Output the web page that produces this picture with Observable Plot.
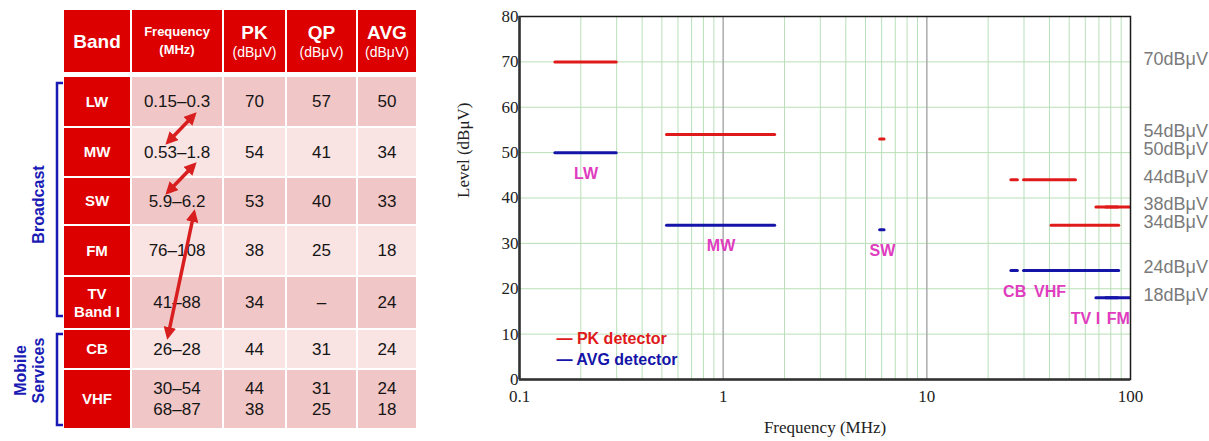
<!DOCTYPE html>
<html><head><meta charset="utf-8">
<script src="https://cdn.jsdelivr.net/npm/d3@7"></script>
<script src="https://cdn.jsdelivr.net/npm/@observablehq/plot@0.6"></script>
<style>
html,body{margin:0;padding:0;background:#fff;}
#root{position:relative;width:1209px;height:441px;overflow:hidden;font-family:"Liberation Sans",Arial,sans-serif;}
#table{position:absolute;left:64px;top:10px;display:grid;grid-template-columns:66px 90px 61px 69px 58px;grid-template-rows:65px 49px 48px 46px 49px 51px 38px 58px;gap:2px;}
.cell{display:flex;align-items:center;justify-content:center;text-align:center;white-space:pre-line;}
.hd{background:#dc0000;color:#fff;font-weight:bold;margin-bottom:3px;font-size:19px;line-height:21px;}
.hd small{display:block;font-size:14px;font-weight:normal;line-height:18px;}
.hd.freq{font-size:13px;line-height:18px;}
.band{background:#dc0000;color:#fff;font-weight:bold;font-size:15px;line-height:18px;}
.body{font-size:17px;color:#151515;line-height:21px;}
.dark{background:#f1c6c6;}
.light{background:#f9e3e3;}
#overlay{position:absolute;left:0;top:0;width:440px;height:441px;pointer-events:none;}
#chart{position:absolute;left:440px;top:0;}
</style>
</head><body>
<div id="root">
  <div id="table"></div>
  <svg id="overlay" xmlns="http://www.w3.org/2000/svg"></svg>
  <div id="chart"></div>
</div>
<script>
// ---- Table data ----
const headers = ["Band", "Frequency\n(MHz)", "PK", "QP", "AVG"];
const headerUnits = ["", "", "(dBμV)", "(dBμV)", "(dBμV)"];
const bands = ["LW", "MW", "SW", "FM", "TV\nBand I", "CB", "VHF"];
const freqText = ["0.15–0.3", "0.53–1.8", "5.9–6.2", "76–108", "41–88", "26–28", "30–54\n68–87"];
const pkText = ["70", "54", "53", "38", "34", "44", "44\n38"];
const qpText = ["57", "41", "40", "25", "–", "31", "31\n25"];
const avgText = ["50", "34", "33", "18", "24", "24", "24\n18"];
const groups = ["Broadcast", "Mobile\nServices"];
const groupFirst = ["LW", "CB"];
const groupLast = ["TV\nBand I", "VHF"];
const arrowFrom = ["LW", "MW", "SW"];
const arrowTo = ["MW", "SW", "CB"];

// ---- Chart data ----
const segBand = ["LW", "MW", "SW", "CB", "VHF", "VHF", "TV I", "FM"];
const segLow = [0.15, 0.53, 5.9, 26, 30, 68, 41, 76];
const segHigh = [0.3, 1.8, 6.2, 28, 54, 87, 88, 108];
const segPK = [70, 54, 53, 44, 44, 38, 34, 38];
const segAVG = [50, 34, 33, 24, 24, 18, 24, 18];
const levelLabels = [70, 54, 50, 44, 38, 34, 24, 18];
const xTicks = [0.1, 1, 10, 100];
const yTicks = [0, 10, 20, 30, 40, 50, 60, 70, 80];
const legendItems = ["PK detector", "AVG detector"];

const RED = "#e01a1a", BLUE = "#1414a8", MAGENTA = "#e03cc0", GROUP_BLUE = "#1a1ab4", ARROW_RED = "#d81e1e";
const SANS = '"Liberation Sans", Arial, sans-serif';

// ---- Build table ----
const table = document.getElementById("table");
headers.forEach((h, i) => {
  const c = document.createElement("div");
  c.className = "cell hd" + (i === 1 ? " freq" : "");
  if (headerUnits[i]) {
    const wrap = document.createElement("div");
    wrap.textContent = h;
    const s = document.createElement("small");
    s.textContent = headerUnits[i];
    wrap.appendChild(s);
    c.appendChild(wrap);
  } else c.textContent = h;
  table.appendChild(c);
});
const freqCells = {};
bands.forEach((b, r) => {
  const shade = r % 2 === 0 ? "dark" : "light";
  const bc = document.createElement("div");
  bc.className = "cell band";
  bc.textContent = b;
  table.appendChild(bc);
  [freqText, pkText, qpText, avgText].forEach((col, j) => {
    const c = document.createElement("div");
    c.className = "cell body " + shade;
    c.textContent = col[r];
    table.appendChild(c);
    if (j === 0) freqCells[b] = c;
  });
});

// ---- Overlay: brackets, group labels, arrows ----
const ov = d3.select("#overlay");
const rootRect = document.getElementById("root").getBoundingClientRect();
const rect = el => { const q = el.getBoundingClientRect(); return {left: q.left - rootRect.left, right: q.right - rootRect.left, top: q.top - rootRect.top, bottom: q.bottom - rootRect.top}; };
const tRect = rect(table);
ov.append("defs").append("marker")
  .attr("id", "ah").attr("viewBox", "0 0 10 10").attr("refX", 7).attr("refY", 5)
  .attr("markerWidth", 3.6).attr("markerHeight", 3.6).attr("orient", "auto-start-reverse")
  .append("path").attr("d", "M0,0 L10,5 L0,10 z").attr("fill", ARROW_RED);

groups.forEach((g, i) => {
  const top = rect(freqCells[groupFirst[i]]).top + (i === 0 ? 6 : 4);
  const bottom = rect(freqCells[groupLast[i]]).bottom - (i === 0 ? 12 : 3);
  const bx = tRect.left - 7, tx = tRect.left - 1;
  ov.append("path").attr("d", `M${tx},${top} H${bx} V${bottom} H${tx}`)
    .attr("fill", "none").attr("stroke", GROUP_BLUE).attr("stroke-width", 2.5);
  const lines = g.split("\n");
  const cy = (top + bottom) / 2 + (i === 0 ? 5 : -9);
  lines.forEach((ln, k) => {
    const x = bx - 19 + (k - (lines.length - 1)) * 18;
    ov.append("text").attr("transform", `translate(${x},${cy}) rotate(-90)`)
      .attr("text-anchor", "middle").attr("dominant-baseline", "central")
      .attr("fill", GROUP_BLUE).attr("font-weight", "bold").attr("font-size", 16)
      .attr("font-family", SANS).text(ln);
  });
});

arrowFrom.forEach((f, i) => {
  const a = rect(freqCells[f]), b = rect(freqCells[arrowTo[i]]);
  const x1 = a.left + 62, y1 = a.bottom - 11;
  const x2 = a.left + 36, y2 = b.top + (i === 2 ? 6 : 14);
  ov.append("line").attr("x1", x1).attr("y1", y1).attr("x2", x2).attr("y2", y2)
    .attr("stroke", ARROW_RED).attr("stroke-width", 3.5)
    .attr("marker-start", "url(#ah)").attr("marker-end", "url(#ah)");
});

// ---- Chart ----
const segs = segBand.map((band, i) => ({band, lo: segLow[i], hi: segHigh[i], pk: segPK[i], avg: segAVG[i]}));
const labels = segs.filter((s, i) => segBand.indexOf(s.band) === i).map(s => {
  const hiV = Math.min(s.hi, xTicks[xTicks.length - 1]);
  const under = d3.min(segs.filter(t => t.lo < s.hi && t.hi > s.lo), t => t.avg);
  return {band: s.band, x: Math.sqrt(s.lo * hiV), y: under};
});
const minor = [];
for (let d = 0; d < xTicks.length - 1; d++) for (let k = 2; k <= 9; k++) minor.push(xTicks[d] * k);

const chart = Plot.plot({
  width: 769, height: 441,
  marginLeft: 79, marginRight: 79, marginTop: 16, marginBottom: 62,
  x: {type: "log", domain: [xTicks[0], xTicks[xTicks.length - 1]]},
  y: {domain: [yTicks[0], yTicks[yTicks.length - 1]]},
  style: {fontFamily: '"Liberation Serif", "Times New Roman", serif', fontSize: "17px", color: "#222", background: "transparent"},
  marks: [
    Plot.gridY(yTicks.slice(1, -1), {stroke: "#b9dfb9", strokeOpacity: 1}),
    Plot.gridX(minor, {stroke: "#b9dfb9", strokeOpacity: 1}),
    Plot.gridX(xTicks.slice(1, -1), {stroke: "#ababab", strokeOpacity: 1, strokeWidth: 1.5}),
    Plot.ruleY(segs, {y: "pk", x1: "lo", x2: "hi", stroke: RED, strokeWidth: 3, strokeLinecap: "round", clip: true}),
    Plot.ruleY(segs, {y: "avg", x1: "lo", x2: "hi", stroke: BLUE, strokeWidth: 3, strokeLinecap: "round", clip: true}),
    Plot.text(labels, {x: "x", y: "y", text: "band", dy: 21, fill: MAGENTA, fontWeight: "bold", fontSize: 16, fontFamily: SANS}),
    Plot.text(levelLabels, {x: () => xTicks[xTicks.length - 1], y: d => d, text: d => `${d}dBμV`, dx: 13, dy: -3, textAnchor: "start", fill: "#7a7a7a", fontSize: 18, fontFamily: SANS}),
    Plot.frame({stroke: "#1a1a1a", strokeWidth: 1.5}),
    Plot.ruleX([xTicks[0]], {stroke: "#333", strokeWidth: 2.5}),
    Plot.ruleY([yTicks[0]], {stroke: "#333", strokeWidth: 2.5}),
    Plot.axisX({ticks: xTicks, tickFormat: d => String(d), tickSize: 0, tickPadding: 10, label: null, fontSize: 17}),
    Plot.axisY({ticks: yTicks, tickSize: 0, tickPadding: 1, label: null, fontSize: 17}),
    Plot.text(["Level (dBμV)"], {frameAnchor: "left", rotate: -90, dx: -56, fontSize: 17, fill: "#222"}),
    Plot.text(["Frequency (MHz)"], {frameAnchor: "bottom", dy: 53, fontSize: 17, fill: "#222"}),
    Plot.text([`— ${legendItems[0]}`], {frameAnchor: "bottom-left", dx: 37, dy: -36, textAnchor: "start", fill: RED, fontWeight: "bold", fontSize: 16, fontFamily: SANS}),
    Plot.text([`— ${legendItems[1]}`], {frameAnchor: "bottom-left", dx: 37, dy: -15, textAnchor: "start", fill: BLUE, fontWeight: "bold", fontSize: 16, fontFamily: SANS})
  ]
});
document.getElementById("chart").appendChild(chart);
</script>
</body></html>
